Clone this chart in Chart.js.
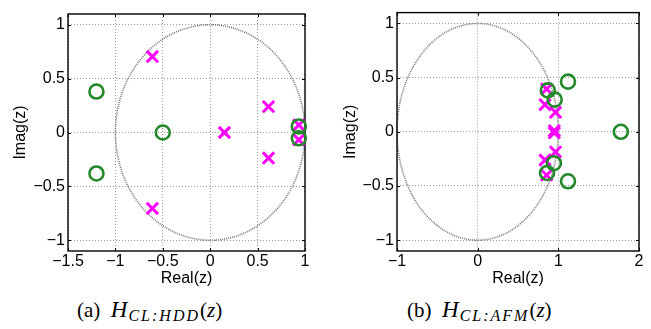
<!DOCTYPE html>
<html>
<head>
<meta charset="utf-8">
<script src="https://cdn.jsdelivr.net/npm/chart.js@4.4.1/dist/chart.umd.min.js"></script>
<style>
  body { margin: 0; background: #fff; width: 651px; height: 329px; position: relative; overflow: hidden; }
  canvas { position: absolute; top: 0; }
  #chartA { left: 0; }
  #chartB { left: 330px; }
  .cap { position: absolute; top: 300px; line-height: 20px; font-family: "Liberation Serif", "DejaVu Serif", serif; font-size: 21px; white-space: nowrap; color: #000; }
  .cap i { font-style: italic; }
  .cap .h { font-size: 23px; }
  .cap sub { font-size: 16px; font-style: italic; vertical-align: baseline; position: relative; top: 4px; letter-spacing: 2px; margin-left: 1px; }
</style>
</head>
<body>
<canvas id="chartA" width="330" height="295"></canvas>
<canvas id="chartB" width="321" height="295"></canvas>
<div class="cap" style="left:77px">(a)&nbsp;&nbsp;<i class="h">H</i><sub>CL:HDD</sub>(<i>z</i>)</div>
<div class="cap" style="left:407px">(b)&nbsp;&nbsp;<i class="h">H</i><sub>CL:AFM</sub>(<i>z</i>)</div>
<script>
// ---------------- Data ----------------
// (a) H_CL:HDD
const A_POLE_RE = [-0.61, -0.61, 0.15, 0.615, 0.615, 0.935, 0.935];
const A_POLE_IM = [0.705, -0.705, 0, 0.24, -0.237, 0.07, -0.068];
const A_ZERO_RE = [-1.2, -1.2, -0.5, 0.935, 0.935];
const A_ZERO_IM = [0.38, -0.38, 0, 0.056, -0.054];
const A_X_TICKS = [-1.5, -1, -0.5, 0, 0.5, 1];
const A_Y_TICKS = [-1, -0.5, 0, 0.5, 1];

// (b) H_CL:AFM
const B_POLE_RE = [0.855, 0.835, 0.965, 0.95, 0.95, 0.965, 0.835, 0.855];
const B_POLE_IM = [0.395, 0.25, 0.18, 0.01, -0.01, -0.185, -0.26, -0.4];
const B_ZERO_RE = [1.775, 1.12, 1.12, 0.87, 0.86, 0.955, 0.945];
const B_ZERO_IM = [0, 0.463, -0.457, 0.382, -0.38, 0.297, -0.29];
const B_X_TICKS = [-1, 0, 1, 2];
const B_Y_TICKS = [-1, -0.5, 0, 0.5, 1];

const UNIT_R = 1;
const POLE_COLOR = "#ff00ff";
const ZERO_COLOR = "#23882a";
const fmtTick = (v) => (v < 0 ? "\u2212" : "") + Math.abs(v);
const toXY = (re, im) => re.map((r, i) => ({ x: r, y: im[i] }));

// ---------------- Plugins ----------------
// unit circle + MATLAB style box with inward ticks
const matlabAxes = {
  id: "matlabAxes",
  beforeDatasetsDraw(chart) {
    const { ctx, chartArea: a, scales: { x, y } } = chart;
    const cx = x.getPixelForValue(0), cy = y.getPixelForValue(0);
    const rx = x.getPixelForValue(UNIT_R) - cx, ry = cy - y.getPixelForValue(UNIT_R);
    ctx.save();
    ctx.strokeStyle = "#777";
    ctx.lineWidth = 1.6;
    ctx.setLineDash([1, 1]);
    ctx.beginPath();
    ctx.ellipse(cx, cy, rx, ry, 0, 0, Math.PI * 2);
    ctx.stroke();
    ctx.setLineDash([]);
    ctx.strokeStyle = "#000";
    ctx.lineWidth = 1;
    ctx.beginPath();
    x.ticks.forEach(t => {
      const px = Math.round(x.getPixelForValue(t.value)) + 0.5;
      ctx.moveTo(px, a.bottom); ctx.lineTo(px, a.bottom - 3);
      ctx.moveTo(px, a.top); ctx.lineTo(px, a.top + 3);
    });
    y.ticks.forEach(t => {
      const py = Math.round(y.getPixelForValue(t.value)) + 0.5;
      ctx.moveTo(a.left, py); ctx.lineTo(a.left + 3, py);
      ctx.moveTo(a.right, py); ctx.lineTo(a.right - 3, py);
    });
    ctx.stroke();
    ctx.lineWidth = 1.4;
    ctx.strokeRect(a.left, a.top, a.right - a.left, a.bottom - a.top);
    ctx.restore();
  }
};

function makePlot(canvasId, poles, zeros, xr, xTicks, yTicks, box) {
  const font = { family: "'Liberation Sans', Arial, sans-serif", size: 16 };
  return new Chart(document.getElementById(canvasId), {
    type: "scatter",
    data: {
      datasets: [
        { label: "zeros", data: zeros, pointStyle: "circle", pointRadius: 7, borderWidth: 2.6,
          borderColor: ZERO_COLOR, backgroundColor: "rgba(0,0,0,0)", clip: false },
        { label: "poles", data: poles, pointStyle: "crossRot", pointRadius: 8, borderWidth: 3,
          borderColor: POLE_COLOR, backgroundColor: POLE_COLOR, clip: false }
      ]
    },
    options: {
      responsive: false,
      animation: false,
      layout: { padding: { top: box.top, right: box.right, left: 0, bottom: 0 } },
      plugins: { legend: { display: false }, tooltip: { enabled: false } },
      scales: {
        x: {
          type: "linear", min: xr[0], max: xr[1],
          afterBuildTicks: (s) => { s.ticks = xTicks.map(v => ({ value: v })); },
          afterFit: (s) => { s.height = box.xh; },
          grid: { color: "rgba(0,0,0,0.4)", drawTicks: false },
          border: { display: false, dash: [1, 2] },
          ticks: { color: "#000", font, padding: 1, maxRotation: 0, callback: fmtTick },
          title: { display: true, text: "Real(z)", color: "#000", font, padding: { top: 0, bottom: 7 } }
        },
        y: {
          type: "linear", min: -1.1, max: 1.1,
          afterBuildTicks: (s) => { s.ticks = yTicks.map(v => ({ value: v })); },
          afterFit: (s) => { s.width = box.yw; },
          grid: { color: "rgba(0,0,0,0.4)", drawTicks: false },
          border: { display: false, dash: [1, 2] },
          ticks: { color: "#000", font, padding: 3, callback: fmtTick },
          title: { display: true, text: "Imag(z)", color: "#000", font, padding: { top: 11, bottom: 0 } }
        }
      }
    },
    plugins: [matlabAxes]
  });
}

makePlot("chartA", toXY(A_POLE_RE, A_POLE_IM), toXY(A_ZERO_RE, A_ZERO_IM), [-1.5, 1], A_X_TICKS, A_Y_TICKS,
  { top: 14, right: 25, xh: 44, yw: 68 });
makePlot("chartB", toXY(B_POLE_RE, B_POLE_IM), toXY(B_ZERO_RE, B_ZERO_IM), [-1, 2], B_X_TICKS, B_Y_TICKS,
  { top: 7, right: 12, xh: 44, yw: 67 });
</script>
</body>
</html>
